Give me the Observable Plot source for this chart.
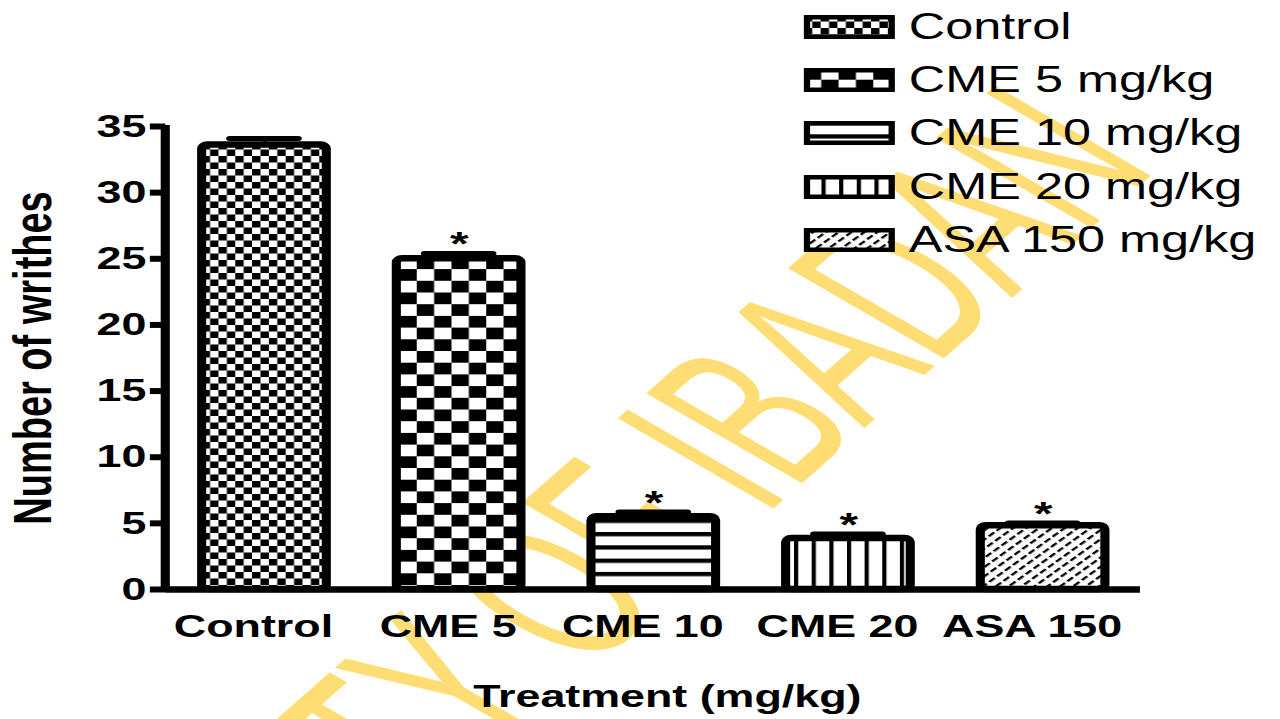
<!DOCTYPE html>
<html>
<head>
<meta charset="utf-8">
<script src="https://cdn.jsdelivr.net/npm/d3@7"></script>
<script src="https://cdn.jsdelivr.net/npm/@observablehq/plot@0.6"></script>
<style>
  html, body { margin: 0; padding: 0; background: #fff; overflow: hidden; }
  #stage { position: relative; width: 1280px; height: 719px; overflow: hidden; background: #fff; }
  #wrap { position: absolute; left: 0; top: 0; width: 914px; height: 719px;
          transform: scaleX(1.4004); transform-origin: 0 0; }
  #wm { position: absolute; left: 0; top: 0; overflow: hidden; }
  #chart { position: absolute; left: 0; top: 0; }
  #legend { position: absolute; left: 574px; top: 0;
            font-family: "Liberation Sans", Arial, sans-serif; font-size: 36px; color: #000; }
  #legend .row { display: flex; align-items: center; height: 53.3px; white-space: nowrap; }
  #legend .row svg { margin-right: 10px; flex: none; }
  #chart g[aria-label="y-axis label"] text { font-size: 38px; font-weight: bold; }
  #chart g[aria-label="x-axis label"] text { font-size: 32px; font-weight: bold; }
  #chart g[aria-label="y-axis tick label"] text { font-size: 32px; font-weight: bold; }
  #chart g[aria-label="x-axis tick label"] text { font-size: 32px; font-weight: bold; }
</style>
</head>
<body>
<svg width="0" height="0" style="position:absolute">
  <defs>
    <pattern id="p-control" patternUnits="userSpaceOnUse" width="12" height="13">
      <rect width="12" height="13" fill="#fff"/>
      <rect x="0" y="0" width="6" height="6.5" fill="#000"/>
      <rect x="6" y="6.5" width="6" height="6.5" fill="#000"/>
    </pattern>
    <pattern id="p-cme5" patternUnits="userSpaceOnUse" width="24.8" height="23.4">
      <rect width="24.8" height="23.4" fill="#fff"/>
      <rect x="0" y="0" width="12.4" height="11.7" fill="#000"/>
      <rect x="12.4" y="11.7" width="12.4" height="11.7" fill="#000"/>
    </pattern>
    <pattern id="p-cme10" patternUnits="userSpaceOnUse" width="10" height="13.3">
      <rect width="10" height="13.3" fill="#fff"/>
      <rect x="0" y="0" width="10" height="4.3" fill="#000"/>
    </pattern>
    <pattern id="p-cme20" patternUnits="userSpaceOnUse" width="12.6" height="10">
      <rect width="12.6" height="10" fill="#fff"/>
      <rect x="0" y="0" width="3" height="10" fill="#000"/>
    </pattern>
    <pattern id="p-asa" patternUnits="userSpaceOnUse" width="8" height="6.5" patternTransform="rotate(-45)">
      <rect width="8" height="6.5" fill="#fff"/>
      <rect x="0" y="0" width="5.5" height="2" fill="#000"/>
    </pattern>
  </defs>
</svg>

<div id="stage">
  <div id="wrap">
    <svg id="wm" width="914" height="719">
      <text transform="translate(828,168) rotate(-51) scale(0.58,1)" text-anchor="end"
            font-family="Liberation Sans, Arial, sans-serif" font-size="208"
            fill="#FFDD75">UNIVERSITY OF IBADAN</text>
    </svg>
    <div id="chart"></div>
    <div id="legend"></div>
  </div>
</div>

<script>
// ---- data ----
const categories = ["Control", "CME 5", "CME 10", "CME 20", "ASA 150"];
const means      = [33.6, 25.0, 5.5, 3.85, 4.82];
const sems       = [0.5, 0.4, 0.36, 0.35, 0.2];
const significant = [false, true, true, true, true];
const patterns   = ["url(#p-control)", "url(#p-cme5)", "url(#p-cme10)", "url(#p-cme20)", "url(#p-asa)"];
const legendLabels = ["Control", "CME 5 mg/kg", "CME 10 mg/kg", "CME 20 mg/kg", "ASA 150 mg/kg"];
const yTicks = [0, 5, 10, 15, 20, 25, 30, 35];

const data = categories.map((c, i) => ({
  cat: c, mean: means[i], top: means[i] + sems[i], sig: significant[i], pat: patterns[i]
}));

const W = 914, H = 719, ML = 118, MR = 100, MT = 126, MB = 130;

const chart = Plot.plot({
  width: W, height: H,
  marginLeft: ML, marginRight: MR, marginTop: MT, marginBottom: MB,
  style: { background: "transparent", fontFamily: "Liberation Sans, Arial, sans-serif", color: "#000", overflow: "visible" },
  x: { domain: categories, paddingInner: 0.36, paddingOuter: 0.18 },
  y: { domain: [0, 35] },
  color: { type: "identity" },
  marks: [
    Plot.ruleX(data, { x: "cat", y1: "mean", y2: "top", stroke: "#000", strokeWidth: 3 }),
    Plot.tickY(data, { x: "cat", y: "top", stroke: "#000", strokeWidth: 5, insetLeft: 20, insetRight: 20, strokeLinecap: "round" }),
    Plot.barY(data, { x: "cat", y: "mean", fill: "pat", stroke: "#000", strokeWidth: 6.5, rx: 4, strokeLinejoin: "round" }),
    Plot.text(data.filter(d => d.sig), { x: "cat", y: "top", text: () => "*", fontSize: 34, fontWeight: "bold", lineAnchor: "middle", dy: -9, fill: "#000" }),
    Plot.ruleY([0], { stroke: "#000", strokeWidth: 6.5 }),
    Plot.axisY({ ticks: yTicks, tickSize: 11, tickPadding: 3, strokeWidth: 6, fontSize: 32, fontWeight: "bold",
                 label: "Number of writhes", labelAnchor: "center", labelArrow: "none", labelOffset: 109 }),
    Plot.axisX({ tickSize: 0, tickPadding: 25, dx: -8, fontSize: 32, fontWeight: "bold",
                 label: "Treatment (mg/kg)", labelAnchor: "center", labelArrow: "none", labelOffset: 117 })
  ]
});

// y-axis spine from the y scale
const ys = chart.scale("y");
d3.select(chart).append("line")
  .attr("x1", ML).attr("x2", ML)
  .attr("y1", ys.apply(0) + 3).attr("y2", ys.apply(35) - 1)
  .attr("stroke", "#000").attr("stroke-width", 6.5);

// nudge the x-axis title slightly right, as in the reference
d3.select(chart).selectAll('g[aria-label="x-axis label"] text').attr("dx", 10);

document.getElementById("chart").appendChild(chart);

// legend
const legend = d3.select("#legend");
legendLabels.forEach((lab, i) => {
  const row = legend.append("div").attr("class", "row");
  const sw = row.append("svg").attr("width", 65).attr("height", 24);
  sw.append("rect").attr("x", 2).attr("y", 2).attr("width", 61).attr("height", 20)
    .attr("fill", patterns[i]).attr("stroke", "#000").attr("stroke-width", 5);
  row.append("span").text(lab);
});
</script>
</body>
</html>
